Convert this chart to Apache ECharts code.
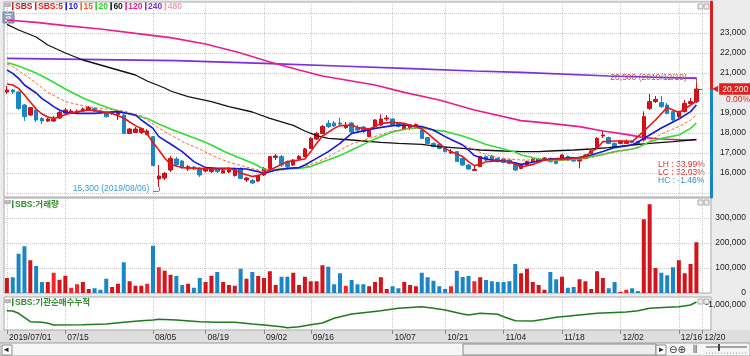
<!DOCTYPE html>
<html><head><meta charset="utf-8">
<script src="https://cdn.jsdelivr.net/npm/echarts@6/dist/echarts.min.js"></script>
<style>html,body{margin:0;padding:0;background:#ececec;}#c{width:750px;height:356px;}</style>
</head><body><div id="c"></div>
<script>
// ---------- data ----------
const dates = [
'07/01','07/02','07/03','07/04','07/05','07/08','07/09','07/10','07/11','07/12','07/15','07/16','07/17','07/18','07/19','07/22','07/23','07/24','07/25','07/26','07/29','07/30','07/31',
'08/01','08/02','08/05','08/06','08/07','08/08','08/09','08/12','08/13','08/14','08/16','08/19','08/20','08/21','08/22','08/23','08/26','08/27','08/28','08/29','08/30',
'09/02','09/03','09/04','09/05','09/06','09/09','09/10','09/11','09/16','09/17','09/18','09/19','09/20','09/23','09/24','09/25','09/26','09/27','09/30',
'10/01','10/02','10/04','10/07','10/08','10/10','10/11','10/14','10/15','10/16','10/17','10/18','10/21','10/22','10/23','10/24','10/25','10/28','10/29','10/30','10/31',
'11/01','11/04','11/05','11/06','11/07','11/08','11/11','11/12','11/13','11/14','11/15','11/18','11/19','11/20','11/21','11/22','11/25','11/26','11/27','11/28','11/29',
'12/02','12/03','12/04','12/05','12/06','12/09','12/10','12/11','12/12','12/13','12/16','12/17','12/18','12/19','12/20',''];
const dateLabelIdx = [0,10,25,34,44,52,66,75,85,95,105,115,119];
const yearPrefix = '2019/';

const opens = [
20050,20150,20050,19400,18900,19150,18730,18600,18600,18750,
19000,19050,19030,19100,19150,19230,19100,18980,18970,18930,
18900,17980,18030,18030,17930,17820,15700,15750,16150,16700,
16600,16200,16300,16230,16100,16070,16200,16000,16050,15880,
16230,15650,15620,15600,15900,16230,16780,16820,16570,16400,
16700,16820,17230,17700,17980,18480,18500,18500,18270,18500,
18250,18300,17820,18320,18400,18700,18700,18500,18200,18250,
18300,18150,17770,17480,17430,17300,17000,17070,16730,16400,
16130,16320,16820,16850,16730,16700,16650,16430,16230,16400,
16570,16600,16650,16730,16700,16650,16820,16730,16600,16730,
16980,17230,17850,17770,17480,17480,17480,17600,17570,17650,
19230,19570,19520,19400,19070,18820,19070,19480,19570];
const closes = [
20150,20050,19230,18820,19270,18650,18600,18700,18690,19030,
19150,19100,19080,19200,19270,19100,19030,18820,19030,19040,
17980,18200,18200,18220,18100,16370,15850,15980,16730,16430,
16270,16320,16200,15900,16230,16230,16070,16120,16150,16160,
15730,15750,15500,15870,16230,16820,16850,16400,16320,16650,
16830,17200,17730,17980,18320,18320,18350,18450,18350,18050,
18150,18070,18200,18650,18700,18750,18400,18330,18400,18400,
18420,17730,17480,17320,17230,17070,17050,16570,16400,16200,
16180,16820,16650,16650,16570,16530,16480,16150,16400,16570,
16700,16700,16750,16570,16480,16900,16650,16600,16730,16900,
17100,17730,17900,17480,17300,17600,17580,17520,17480,18820,
19570,19680,19320,18980,18650,19070,19480,19570,20200];
const lows = [
19950,19950,19150,18600,18850,18550,18450,18550,18550,18700,
18950,18950,18980,19050,19100,19050,18980,18780,18900,18650,
17950,17950,18000,17950,17880,16350,15300,15650,16050,16350,
16200,16100,16150,15800,16050,16000,16000,15980,16000,15820,
15700,15550,15450,15550,15850,16150,16650,16300,16250,16350,
16650,16800,17200,17650,17950,18250,18300,18350,18200,18000,
18000,18000,17780,18280,18350,18600,18350,18280,18150,18150,
18200,17700,17450,17280,17200,17030,16950,16550,16350,16150,
16100,16300,16600,16600,16520,16480,16430,16100,16180,16350,
16520,16550,16600,16520,16430,16600,16600,16550,16230,16700,
16950,17200,17750,17450,17250,17450,17450,17480,17430,17570,
19150,19500,19250,18930,18600,18750,19030,19430,19500];
const highs = [
20350,20200,20100,19450,19300,19200,18800,18750,18850,19100,
19250,19200,19180,19280,19350,19280,19150,19030,19080,19080,
18950,18250,18300,18260,18200,17850,16400,16050,16850,16800,
16650,16400,16350,16280,16300,16280,16250,16200,16250,16200,
16280,15800,15700,15900,16300,16850,16950,16900,16620,16700,
16900,17250,17800,18050,18400,18650,18600,18750,18550,18550,
18400,18350,18250,18700,18930,18900,18750,18550,18450,18450,
18480,18200,17800,17530,17480,17350,17200,17100,16780,16450,
16350,16850,16880,16900,16780,16750,16700,16480,16450,16620,
16750,16750,16800,16780,16750,16950,16870,16780,16800,16950,
17150,17800,18100,17820,17530,17650,17680,17650,17620,19080,
19950,19850,19850,19500,19100,19120,19650,19750,20500];
const volumes = [
60000,63000,157000,187000,131000,108000,44000,44000,81000,53000,
69000,21000,35000,44000,16000,19000,13000,57000,24000,37000,
123000,47000,29000,29000,37000,189000,103000,89000,73000,68000,
32000,37000,21000,60000,44000,69000,84000,44000,32000,29000,
97000,57000,84000,68000,60000,87000,32000,65000,65000,81000,
32000,65000,47000,47000,111000,105000,35000,79000,29000,52000,
35000,35000,27000,44000,63000,16000,27000,19000,44000,32000,
27000,81000,63000,49000,27000,16000,27000,89000,64000,68000,
47000,63000,52000,47000,44000,44000,47000,116000,79000,97000,
44000,32000,13000,84000,55000,65000,21000,24000,55000,47000,
16000,87000,60000,19000,44000,5000,13000,19000,8000,295000,
355000,100000,81000,71000,103000,131000,79000,116000,203000];

// moving averages: [day index, value]
const ma5 = [[0,20450],[1,20400],[2,20230],[3,19900],[4,19550],[5,19200],[6,18950],[7,18800],[8,18730],[9,18800],[10,18930],[12,19070],[14,19150],[15,19120],[17,19030],[18,18980],[20,18750],[21,18550],[22,18370],[23,18230],[24,17950],[25,17520],[26,17150],[27,16750],[28,16430],[30,16270],[33,16230],[35,16200],[37,16200],[38,16230],[39,16150],[40,16000],[42,15820],[43,15880],[45,16150],[47,16430],[48,16570],[50,16650],[51,16700],[52,17070],[53,17480],[54,17850],[56,18230],[57,18370],[59,18400],[60,18270],[62,18200],[63,18320],[64,18480],[66,18530],[68,18480],[70,18320],[71,18200],[72,17980],[73,17730],[74,17480],[75,17230],[76,17070],[78,16820],[79,16570],[80,16370],[81,16430],[82,16570],[84,16600],[86,16570],[88,16300],[90,16430],[92,16650],[94,16700],[96,16700],[99,16820],[100,17070],[101,17230],[102,17570],[104,17600],[106,17600],[107,17570],[108,17820],[111,18650],[113,19280],[115,19020],[117,19400],[118,19600]];
const ma10 = [[0,21150],[1,20980],[2,20730],[3,20400],[5,20000],[6,19720],[7,19530],[8,19320],[9,19150],[10,19030],[12,18980],[15,18980],[17,19030],[19,19070],[22,18900],[23,18650],[25,18230],[26,17820],[28,17450],[30,17070],[32,16570],[34,16270],[36,16230],[38,16230],[41,16200],[43,16070],[44,15980],[46,16150],[48,16230],[50,16270],[51,16400],[53,16730],[55,17070],[57,17480],[59,17980],[63,18230],[66,18370],[68,18400],[71,18320],[73,18150],[75,17820],[78,17400],[79,17150],[80,16870],[81,16770],[83,16650],[86,16570],[88,16430],[91,16600],[93,16700],[95,16730],[98,16770],[100,16900],[102,17070],[104,17270],[107,17400],[108,17550],[110,17900],[112,18250],[115,18700],[117,19070],[118,19400]];
const ma15 = [[0,21450],[1,21320],[5,20500],[7,20030],[10,19570],[14,19300],[17,19200],[20,19100],[23,18850],[26,18250],[28,17900],[30,17570],[33,17200],[35,16900],[37,16650],[39,16450],[42,16220],[44,16070],[46,16100],[49,16230],[51,16330],[53,16530],[55,16800],[58,17300],[59,17450],[63,17830],[66,18100],[70,18270],[72,18200],[74,17980],[76,17650],[79,17300],[81,17030],[83,16830],[86,16700],[88,16650],[90,16650],[93,16600],[96,16650],[100,16770],[103,16980],[107,17200],[109,17400],[112,17950],[115,18320],[117,18650],[118,18900]];
const ma20 = [[0,21530],[2,21350],[5,21000],[7,20700],[10,20200],[13,19750],[16,19400],[19,19100],[22,18880],[24,18730],[26,18450],[28,18200],[30,17980],[33,17650],[35,17400],[37,17100],[39,16850],[42,16500],[44,16200],[45,16150],[47,16200],[50,16230],[52,16320],[54,16550],[57,16870],[59,17150],[62,17570],[64,17820],[66,18050],[69,18240],[71,18270],[73,18150],[75,18080],[78,17850],[80,17650],[82,17430],[85,17200],[87,17050],[88,16900],[91,16700],[93,16650],[95,16650],[98,16700],[100,16820],[102,16930],[104,17070],[107,17200],[108,17270],[110,17570],[112,17730],[115,17900],[117,18230],[118,18500]];
const ma60 = [[0,23430],[2,23150],[5,22800],[7,22400],[10,22000],[13,21650],[16,21400],[19,21150],[22,20900],[24,20600],[27,20250],[28,20100],[31,19820],[35,19570],[38,19320],[42,19050],[45,18730],[49,18380],[51,18100],[53,17870],[55,17730],[59,17650],[61,17600],[64,17530],[67,17480],[71,17430],[74,17320],[78,17230],[81,17150],[85,17100],[88,17070],[91,17070],[93,17100],[97,17150],[100,17200],[103,17270],[107,17400],[110,17480],[114,17570],[117,17650],[118,17680]];
const ma120 = [[0,23650],[5,23530],[10,23370],[16,23200],[22,22980],[28,22770],[34,22450],[40,22000],[45,21550],[50,21150],[54,20850],[59,20600],[63,20400],[68,20030],[74,19650],[80,19150],[88,18620],[93,18480],[98,18320],[102,18100],[106,17930],[109,17770],[112,17700],[116,17650],[118,17650]];
const ma240 = [[0,21730],[29,21620],[44,21480],[58,21340],[68,21230],[80,21100],[88,21030],[103,20850],[118,20730]];
const ma480 = [];
const instCum = [[0,-1570000],[1,-1600000],[2,-1830000],[4,-2670000],[6,-2730000],[7,-2830000],[8,-3000000],[13,-2970000],[17,-2900000],[20,-2730000],[23,-2570000],[25,-2500000],[26,-2430000],[29,-2500000],[33,-2670000],[36,-2730000],[39,-2730000],[42,-2900000],[44,-3000000],[47,-3170000],[48,-3270000],[50,-3170000],[52,-2970000],[54,-2800000],[56,-2330000],[59,-1900000],[61,-1770000],[64,-1570000],[67,-1330000],[71,-1170000],[73,-1330000],[75,-1500000],[78,-1900000],[79,-2000000],[81,-1830000],[84,-1930000],[85,-2170000],[87,-2570000],[90,-2600000],[92,-2430000],[94,-2230000],[98,-2000000],[101,-1830000],[103,-1770000],[106,-1700000],[108,-1570000],[110,-1330000],[113,-1230000],[115,-1170000],[117,-1000000],[118,-700000]];
const priceLabels = [16000,17000,18000,19000,21000,22000,23000];
const volumeLabels = [0,100000,200000,300000];
const instLabels = [-1000000];
const legendNames = ['SBS','SBS:5','10','15','20','60','120','240','480'];
const legendColors = ['#c81a1a','#e8201c','#1a1ae0','#ff5a1e','#22d322','#111111','#ec1c8c','#7a2fe0','#f2a0b4'];

// ---------- derived ----------
const FONT = "'Liberation Sans',Arial,'Noto Sans CJK KR',sans-serif";
const FS = 8.5;
const fmt = v => String(v).replace(/\B(?=(\d{3})+(?!\d))/g, ',');
const candle = opens.map((o,i)=>[o, closes[i], lows[i], highs[i]]);
const hi = Math.max(...highs), lo = Math.min(...lows);
const hiIdx = highs.indexOf(hi), loIdx = lows.indexOf(lo);
const last = closes[closes.length-1];
const LH = ((hi-lo)/lo*100).toFixed(2), LC = ((last-lo)/lo*100).toFixed(2), HC = ((last-hi)/hi*100).toFixed(2);
const UP='#d3141b', UPB='#f2262a', DOWN='#1b86c6';
const volItems = volumes.map((v,i)=>({value:v, itemStyle:{color: closes[i] < opens[i] ? DOWN : (i>0 && closes[i] < closes[i-1] ? UPB : UP)}}));
const labelSet = new Set(dateLabelIdx);
const showIdx = (i)=>labelSet.has(i);
const pMin = 14800, pMax = 24550;
const f = (pMax-last)/(pMax-pMin);
const GRID = '#c9c9c9';
const CLEAR = 'rgba(0,0,0,0)';

// rich-text legend rows
const legRich = {};
const legText = legendNames.map((n,i)=>{
  legRich['m'+i] = {width:1.5, height:8, backgroundColor:legendColors[i]};
  legRich['t'+i] = {color:legendColors[i], fontSize:FS, fontFamily:FONT, padding:[0,2.5,0,1.5]};
  return '{m'+i+'|\u2009}{t'+i+'|'+n+'}';
}).join('');
const panelLabel = (txt)=>({text:'{m|\u2009}{t|'+txt+'}', rich:{m:{width:1.5,height:8,backgroundColor:'#2f8f2f'}, t:{color:'#2f8f2f', fontSize:FS, fontFamily:FONT, padding:[0,0,0,1.5]}}});

const chart = echarts.init(document.getElementById('c'), null, {renderer:'canvas'});
const baseX = (gi)=>({type:'category', gridIndex:gi, data:dates, boundaryGap:true,
  axisLine:{show:false}, axisTick:{show:false}, axisLabel:{show:false},
  splitLine:{show:true, interval:showIdx, alignWithLabel:true, lineStyle:{color:GRID, type:'dotted'}}});
const maLine = (name, data, color, width, dashed)=>({name, type:'line', xAxisIndex:0, yAxisIndex:0, data, symbol:'none', silent:true,
  lineStyle:{color, width, type: dashed ? [3,2] : 'solid'}, itemStyle:{color}, z:3});

const vol = panelLabel('SBS:거래량'), inst = panelLabel('SBS:기관순매수누적');
const seg = (a, b, color)=>[{coord:a, lineStyle:{color, width:1, type:'solid', opacity:1}, label:{show:false}}, {coord:b}];
const option = {
  backgroundColor:'#ececec', animation:false,
  textStyle:{fontFamily:FONT},
  title:[
    {left:12, top:2, padding:0, text:legText, textStyle:{rich:legRich, fontSize:FS}},
    {left:12, top:200, padding:0, text:vol.text, textStyle:{rich:vol.rich, fontSize:FS}},
    {left:12, top:298, padding:0, text:inst.text, textStyle:{rich:inst.rich, fontSize:FS}}
  ],
  grid:[
    {left:4, right:39, top:2, height:195, show:true, backgroundColor:'#fff', borderColor:'#a9a9a9', borderWidth:1, outerBoundsMode:'none'},
    {left:4, right:39, top:198, height:95, show:true, backgroundColor:'#fff', borderColor:'#a9a9a9', borderWidth:1, outerBoundsMode:'none'},
    {left:4, right:39, top:297, height:33, show:true, backgroundColor:'#fff', borderColor:'#a9a9a9', borderWidth:1, outerBoundsMode:'none'}
  ],
  xAxis:[
    baseX(0), baseX(1),
    Object.assign(baseX(2), {
      axisTick:{show:true, interval:showIdx, alignWithLabel:true, length:4, lineStyle:{color:'#888'}},
      axisLabel:{show:true, interval:showIdx, hideOverlap:false, align:'left', padding:[0,0,0,2], margin:3,
        color:'#222', fontSize:FS, fontFamily:FONT,
        formatter:(v,i)=> i===0 ? yearPrefix+v : v}
    })
  ],
  yAxis:[
    {type:'value', gridIndex:0, position:'right', min:pMin, max:pMax, interval:200,
     axisLine:{show:true, lineStyle:{width:3, color:new echarts.graphic.LinearGradient(0,0,0,1,[
       {offset:0,color:'#d9201f'},{offset:f,color:'#d9201f'},{offset:f,color:'#1b86c6'},{offset:1,color:'#1b86c6'}])}},
     axisTick:{show:false},
     axisLabel:{align:'right', margin:35, color:'#222', fontSize:FS, fontFamily:FONT,
       formatter:v=> priceLabels.includes(v) ? fmt(v) : ''},
     splitLine:{show:true, lineStyle:{type:'dotted', color:[CLEAR,GRID,CLEAR,CLEAR,CLEAR]}}},
    {type:'value', gridIndex:1, position:'right', min:0, max:380000, interval:100000,
     axisLine:{show:false}, axisTick:{show:false},
     axisLabel:{align:'right', margin:35, color:'#222', fontSize:FS, fontFamily:FONT,
       formatter:v=> volumeLabels.includes(v) ? fmt(v) : ''},
     splitLine:{show:true, lineStyle:{type:'dotted', color:GRID}}},
    {type:'value', gridIndex:2, position:'right', min:-3500000, max:-200000, interval:500000,
     axisLine:{show:false}, axisTick:{show:false},
     axisLabel:{align:'right', margin:35, color:'#222', fontSize:FS, fontFamily:FONT,
       formatter:v=> instLabels.includes(v) ? fmt(v) : ''},
     splitLine:{show:false}}
  ],
  series:[
    {name:'SBS', type:'candlestick', xAxisIndex:0, yAxisIndex:0, data:candle, barWidth:4, silent:true, clip:false,
     itemStyle:{color:UP, color0:DOWN, borderColor:'#c40e15', borderColor0:DOWN, borderWidth:1}, z:2,
     markPoint:{symbol:'circle', symbolSize:1, silent:true, itemStyle:{color:CLEAR},
       data:[
        {coord:[hiIdx, hi], label:{show:true, position:'left', distance:0, offset:[-9,-5], color:'#c4514e', fontSize:FS, fontFamily:FONT,
          formatter: fmt(hi)+' ('+yearPrefix+dates[hiIdx]+')'}},
        {coord:[loIdx, lo], label:{show:true, position:'left', distance:0, offset:[-9,2], color:'#3c9ad6', fontSize:FS, fontFamily:FONT,
          formatter: fmt(lo)+' ('+yearPrefix+dates[loIdx]+')'}}
       ]},
     markLine:{silent:true, symbol:['none','none'], animation:false,
       data:[
        {yAxis:last, lineStyle:{color:CLEAR, width:0}, label:{show:true, position:'end', distance:1, opacity:1,
          formatter:'{t|◀}{b|'+fmt(last)+'}',
          rich:{t:{color:'#e0201c', fontSize:8, fontFamily:'DejaVu Sans', padding:[0,1,0,0]},
                b:{backgroundColor:'#e0201c', color:'#fff', fontSize:FS, fontFamily:FONT, padding:[2,2,1,3]}}}},
        {yAxis:last, lineStyle:{color:CLEAR, width:0}, label:{show:true, position:'end', distance:15, offset:[0,11], opacity:1,
          formatter:'0.00%', color:'#e0201c', fontSize:FS, fontFamily:FONT}},
        seg([hiIdx+0.45, last], [hiIdx+1.2, last], '#e0201c'),
        seg([hiIdx-1.55, hi+270], [hiIdx, hi+270], '#c4514e'),
        seg([hiIdx, hi+270], [hiIdx, hi], '#c4514e'),
        seg([loIdx-1.45, lo-200], [loIdx-0.3, lo-200], '#3c9ad6'),
        seg([loIdx-0.3, lo-200], [loIdx, lo], '#3c9ad6')
       ]}
    },
    maLine('240', ma240, '#7a2fe0', 1.6),
    maLine('120', ma120, '#ec1c8c', 1.6),
    maLine('60', ma60, '#111111', 1.3),
    maLine('20', ma20, '#33dd33', 1.6),
    maLine('15', ma15, '#ff6a30', 1, true),
    maLine('10', ma10, '#1818dc', 1.6),
    maLine('SBS:5', ma5, '#ee1414', 1.6),
    maLine('480', ma480, '#f2a0b4', 1),
    {name:'SBS:거래량', type:'bar', xAxisIndex:1, yAxisIndex:1, data:volItems, barWidth:4, silent:true},
    {name:'SBS:기관순매수누적', type:'line', xAxisIndex:2, yAxisIndex:2, data:instCum, symbol:'none', silent:true,
     lineStyle:{color:'#1f7a1f', width:1.5}, itemStyle:{color:'#1f7a1f'}}
  ],
  graphic:[
    {type:'rect', z:-1, shape:{x:0,y:330,width:750,height:13}, style:{fill:'#dedede'}},
    {type:'rect', shape:{x:0,y:343,width:750,height:13}, style:{fill:'#f6f6f6', stroke:'#9c9c9c', lineWidth:1}},
    {type:'rect', shape:{x:2,y:345,width:10,height:10}, style:{fill:'#fff', stroke:'#8a8a8a'}},
    {type:'text', x:4, y:350, style:{text:'◂', fill:'#222', font:'9px DejaVu Sans', verticalAlign:'middle'}},
    {type:'rect', shape:{x:463,y:344,width:193,height:11}, style:{fill:'#eeeeee', stroke:'#8a8a8a'}},
    {type:'rect', shape:{x:656,y:345,width:10,height:10}, style:{fill:'#fff', stroke:'#8a8a8a'}},
    {type:'text', x:659, y:350, style:{text:'▸', fill:'#222', font:'9px DejaVu Sans', verticalAlign:'middle'}},
    {type:'text', x:669, y:350, style:{text:'⊖⊕', fill:'#333', font:'10px DejaVu Sans', verticalAlign:'middle'}},
    {type:'text', x:693, y:350, style:{text:'⫼', fill:'#333', font:'9px DejaVu Sans', verticalAlign:'middle'}},
    {type:'line', shape:{x1:706,y1:347,x2:747,y2:347}, style:{stroke:'#555', lineWidth:1}},
    {type:'line', shape:{x1:706,y1:353,x2:747,y2:353}, style:{stroke:'#999', lineWidth:1, lineDash:[1,2]}},
    {type:'rect', shape:{x:718,y:344,width:2,height:7}, style:{fill:'#444'}},
    {type:'rect', shape:{x:4,y:3,width:7,height:4}, style:{fill:'#b9b9b9'}},
    {type:'rect', shape:{x:4,y:200,width:7,height:4}, style:{fill:'#b9b9b9'}},
    {type:'rect', shape:{x:4,y:299,width:7,height:4}, style:{fill:'#b9b9b9'}},
    {type:'rect', shape:{x:3,y:12,width:11,height:11}, style:{fill:'#8ea3c2', stroke:'#6f84a3'}},
    {type:'text', x:8.5, y:18, style:{text:'호', fill:'#fff', font:'bold 8px "Noto Sans CJK KR"', align:'center', verticalAlign:'middle'}},
    {type:'rect', shape:{x:698,y:4,width:5,height:5}, style:{fill:'#eee', stroke:'#aaa'}},
    {type:'rect', shape:{x:704,y:4,width:5,height:5}, style:{fill:'#eee', stroke:'#aaa'}},
    {type:'rect', shape:{x:698,y:200,width:5,height:5}, style:{fill:'#eee', stroke:'#aaa'}},
    {type:'rect', shape:{x:704,y:200,width:5,height:5}, style:{fill:'#eee', stroke:'#aaa'}},
    {type:'rect', shape:{x:698,y:299,width:5,height:5}, style:{fill:'#eee', stroke:'#aaa'}},
    {type:'rect', shape:{x:704,y:299,width:5,height:5}, style:{fill:'#eee', stroke:'#aaa'}},
    {type:'text', x:658, y:165, style:{text:'LH : '+LH+'%', fill:'#e0302a', font:FS+'px '+FONT, verticalAlign:'middle'}},
    {type:'text', x:658, y:172.7, style:{text:'LC : '+LC+'%', fill:'#e0302a', font:FS+'px '+FONT, verticalAlign:'middle'}},
    {type:'text', x:658, y:180.4, style:{text:'HC : '+HC+'%', fill:'#2f8fd0', font:FS+'px '+FONT, verticalAlign:'middle'}}
  ]
};
chart.setOption(option);
</script>
</body></html>
